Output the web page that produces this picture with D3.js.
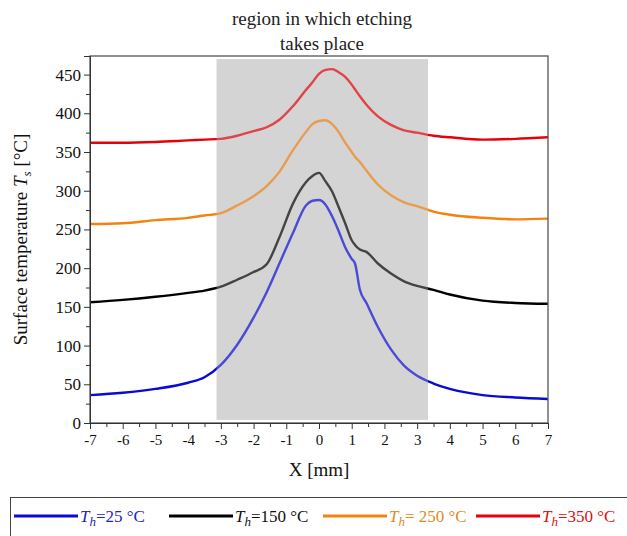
<!DOCTYPE html>
<head>
    <meta charset="utf-8">
    <script src="https://d3js.org/d3.v7.min.js"></script>
</head>
<style>
    body { margin: 0; background: #fff; }
    svg text { font-family: "Liberation Serif", "Times New Roman", serif; }
</style>
<body>
    <div id="chart"></div>
</body>

<script>
    // positions along the sample (mm)
    const xs = [-7, -6, -5, -4, -3.5, -3, -2.5, -2, -1.6, -1.2, -0.8, -0.4, -0.2, 0, 0.2, 0.4,
                0.6, 0.8, 1, 1.1, 1.25, 1.45, 1.8, 2.2, 2.6, 3, 3.5, 4, 5, 6, 7];

    // surface temperature for each heater temperature
    const t25  = [36, 39, 44, 52, 59, 75, 101, 136, 169, 207, 245, 281, 287, 288, 282, 267,
                  248, 227, 212, 206, 172, 155, 124, 95, 74, 61, 51, 44, 36, 33, 31];
    const t150 = [156, 159, 163, 168, 171, 176, 185, 195, 205, 241, 283, 311, 319, 323, 312, 299,
                  279, 258, 236, 230, 224, 221, 206, 193, 183, 177, 172, 166, 158, 155, 154];
    const t250 = [257, 258, 262, 265, 268, 271, 281, 293, 306, 325, 352, 376, 386, 390, 391, 386,
                  376, 362, 350, 344, 337, 326, 308, 294, 285, 280, 273, 269, 265, 263, 264];
    const t350 = [362, 362, 363, 365, 366, 367, 371, 377, 382, 392, 409, 430, 440, 451, 456, 457,
                  453, 447, 437, 431, 422, 411, 396, 385, 378, 375, 371, 369, 366, 367, 369];

    const seriesNames = ["=25 °C", "=150 °C", "= 250 °C", "=350 °C"];
    const seriesValues = [t25, t150, t250, t350];
    const lineColors = ["#0a0ad8", "#000000", "#f5820f", "#e60008"];
    const textColors = ["#2323b8", "#111111", "#e08a2a", "#e01010"];

    const etchRegion = [-3.13, 3.33];
    const xTicks = d3.range(-7, 8, 1);
    const yTicks = d3.range(0, 451, 50);

    const W = 627, H = 536;
    const margin = {top: 56, right: 79, bottom: 113, left: 90};
    const width = W - margin.left - margin.right,
          height = H - margin.top - margin.bottom;
    const serif = "Liberation Serif, Times New Roman, serif";

    const svg = d3.select("#chart").append("svg")
        .attr("width", W).attr("height", H);

    const g = svg.append("g")
        .attr("transform", `translate(${margin.left},${margin.top})`);

    const x = d3.scaleLinear().domain([-7, 7]).range([0, width]);
    const y = d3.scaleLinear().domain([0, 474]).range([height, 0]);

    // etching region (drawn under the curves, then a veil on top)
    const regionRect = sel => sel
        .attr("x", x(etchRegion[0]))
        .attr("width", x(etchRegion[1]) - x(etchRegion[0]))
        .attr("y", y(470))
        .attr("height", y(4) - y(470))
        .attr("fill", "#d4d4d4");
    g.append("rect").call(regionRect);

    const line = d3.line()
        .x((d, i) => x(xs[i]))
        .y(d => y(d))
        .curve(d3.curveMonotoneX);

    g.selectAll(".curve")
        .data(seriesValues)
        .join("path")
        .attr("class", "curve")
        .attr("d", d => line(d))
        .attr("fill", "none")
        .attr("stroke", (d, i) => lineColors[i])
        .attr("stroke-width", 2.4);

    g.append("rect").call(regionRect).attr("opacity", 0.32);

    // frame
    g.append("rect")
        .attr("width", width).attr("height", height)
        .attr("fill", "none").attr("stroke", "#555").attr("stroke-width", 1.3);

    // axes
    const yAxis = g.append("g")
        .call(d3.axisLeft(y).tickValues(yTicks).tickSize(6).tickPadding(3));
    g.append("g")
        .call(d3.axisLeft(y).tickValues(d3.range(25, 475, 50)).tickSize(4).tickFormat(""));
    yAxis.attr("font-family", serif).attr("font-size", 17);
    yAxis.selectAll("text").attr("fill", "#111");

    const xAxis = g.append("g")
        .attr("transform", `translate(0,${height})`)
        .call(d3.axisBottom(x).tickValues(xTicks).tickSize(6).tickPadding(5)
            .tickFormat(d => String(d)));
    g.append("g")
        .attr("transform", `translate(0,${height})`)
        .call(d3.axisBottom(x).tickValues(d3.range(-6.5, 7, 1)).tickSize(4).tickFormat(""));
    xAxis.attr("font-family", serif).attr("font-size", 15);
    xAxis.selectAll("text").attr("fill", "#111");
    g.selectAll(".domain").attr("stroke", "#333");
    g.selectAll(".tick line").attr("stroke", "#333");

    // title
    const title = svg.append("text")
        .attr("text-anchor", "middle").attr("font-size", 19).attr("fill", "#222");
    title.append("tspan").attr("x", 322).attr("y", 25).text("region in which etching");
    title.append("tspan").attr("x", 322).attr("y", 50).text("takes place");

    // axis labels
    svg.append("text")
        .attr("x", margin.left + x(0)).attr("y", 476)
        .attr("text-anchor", "middle").attr("font-size", 19).attr("fill", "#111")
        .text("X [mm]");

    const yl = svg.append("text")
        .attr("transform", `translate(27,${margin.top + height / 2}) rotate(-90)`)
        .attr("text-anchor", "middle").attr("font-size", 19).attr("fill", "#111");
    yl.append("tspan").text("Surface temperature ");
    yl.append("tspan").attr("font-style", "italic").text("T");
    yl.append("tspan").attr("font-style", "italic").attr("font-size", 13).attr("dy", 4).text("s");
    yl.append("tspan").attr("dy", -4).text(" [°C]");

    // legend
    svg.append("rect")
        .attr("x", 10.5).attr("y", 497.5).attr("width", 640).attr("height", 60)
        .attr("fill", "none").attr("stroke", "#444").attr("stroke-width", 1);

    const legendX = [14, 169, 323, 476];
    const legend = svg.selectAll(".leg")
        .data(seriesNames)
        .join("g")
        .attr("class", "leg")
        .attr("transform", (d, i) => `translate(${legendX[i]},516)`);
    legend.append("line")
        .attr("x1", 0).attr("x2", 64)
        .attr("stroke", (d, i) => lineColors[i]).attr("stroke-width", 3);
    const lt = legend.append("text")
        .attr("x", 66).attr("y", 6)
        .attr("font-size", 17)
        .attr("fill", (d, i) => textColors[i]);
    lt.append("tspan").attr("font-style", "italic").text("T");
    lt.append("tspan").attr("font-style", "italic").attr("font-size", 13).attr("dy", 4).text("h");
    lt.append("tspan").attr("dy", -4).text(d => d);
</script>
